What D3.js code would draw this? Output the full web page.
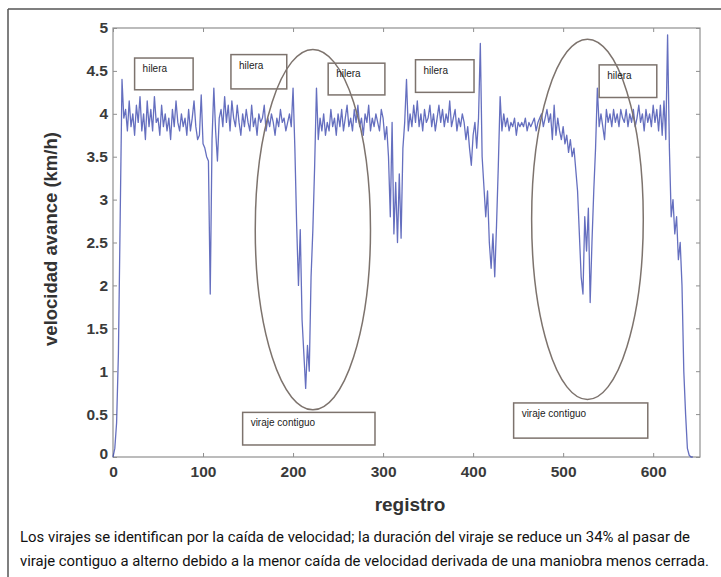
<!DOCTYPE html>
<html>
<head>
<meta charset="utf-8">
<script src="https://cdn.jsdelivr.net/npm/d3@7"></script>
<style>
  body { margin: 0; background: #fff; }
</style>
</head>
<body>
<div id="chart"></div>
<script>
// chart size and plot box
const width = 721;
const height = 577;
const marginLeft = 113;
const marginTop = 28;
const plotRight = 700;
const plotBottom = 457;

// velocidad de avance, one value every 2 registros
const paso = 2;
const velocidad = [
  0.00, 0.10, 0.40, 1.20, 2.80, 4.40, 3.95, 4.05, 3.80, 4.15,
  3.85, 4.00, 3.75, 4.10, 3.90, 4.20, 3.80, 4.00, 3.70, 4.15,
  3.85, 4.05, 3.80, 4.20, 3.90, 3.95, 3.75, 4.10, 3.85, 4.00,
  3.80, 3.95, 3.70, 4.05, 3.85, 4.15, 3.90, 3.80, 4.00, 3.85,
  3.95, 3.75, 4.05, 3.80, 3.95, 4.15, 3.85, 3.70, 3.75, 4.22,
  3.65, 3.60, 3.50, 3.45, 1.90, 3.70, 4.30, 3.80, 3.45, 3.95,
  4.05, 3.85, 4.20, 3.90, 4.10, 3.80, 4.15, 3.95, 3.85, 4.10,
  3.90, 3.75, 4.00, 3.85, 4.05, 3.90, 3.80, 4.10, 3.85, 3.95,
  3.75, 4.00, 3.90, 3.95, 4.10, 3.80, 3.95, 3.85, 4.00, 3.90,
  3.75, 3.95, 3.85, 4.05, 3.90, 3.95, 3.80, 3.90, 4.00, 3.85,
  4.30, 3.60, 2.70, 2.00, 2.65, 1.60, 1.20, 0.80, 1.30, 1.00,
  2.10, 2.65, 3.40, 4.30, 3.70, 3.95, 3.80, 4.00, 3.75, 3.90,
  3.80, 4.05, 3.85, 3.95, 3.75, 4.00, 3.85, 4.05, 3.80, 3.95,
  4.10, 3.85, 3.95, 3.80, 4.05, 3.90, 4.10, 3.85, 3.95, 3.75,
  4.00, 3.90, 4.10, 3.80, 3.95, 3.85, 4.00, 3.90, 3.80, 4.05,
  3.95, 3.70, 3.85, 3.50, 2.80, 3.90, 2.60, 3.20, 2.50, 3.30,
  2.55, 3.60, 3.90, 4.40, 3.80, 4.00, 3.85, 4.10, 3.90, 4.15,
  3.85, 4.00, 3.80, 4.05, 3.90, 3.95, 4.10, 3.85, 4.00, 3.80,
  3.95, 4.10, 3.90, 4.05, 3.85, 4.00, 3.90, 4.15, 3.85, 3.95,
  4.05, 3.80, 3.95, 3.85, 4.00, 3.90, 3.70, 3.85, 3.60, 3.40,
  3.75, 3.90, 3.60, 3.95, 4.82, 3.50, 3.15, 2.80, 3.10, 2.50,
  2.20, 2.60, 2.10, 2.70, 3.40, 4.20, 3.80, 4.00, 3.85, 3.95,
  3.80, 3.90, 3.85, 3.95, 3.75, 3.90, 3.85, 3.90, 3.85, 3.95,
  3.80, 3.90, 3.85, 3.90, 3.95, 3.80, 3.90, 3.95, 4.00, 3.85,
  3.95, 4.05, 3.90, 4.00, 3.70, 4.10, 3.75, 3.95, 3.80, 3.70,
  3.85, 3.65, 3.75, 3.55, 3.70, 3.50, 3.60, 3.35, 3.10, 2.60,
  2.10, 1.90, 2.80, 2.40, 2.90, 1.80, 2.50, 3.10, 3.60, 4.30,
  3.85, 4.00, 3.85, 3.70, 4.05, 3.90, 4.00, 3.85, 4.05, 3.90,
  4.00, 3.85, 4.05, 3.95, 3.90, 4.05, 3.85, 4.00, 3.90, 4.05,
  3.85, 3.95, 4.10, 3.90, 4.00, 3.80, 4.05, 3.90, 4.00, 3.85,
  4.10, 3.90, 4.05, 3.80, 4.10, 3.75, 4.15, 3.70, 4.92, 3.60,
  2.80, 3.00, 2.60, 2.80, 2.30, 2.50, 2.00, 1.00, 0.50, 0.10,
  0.02, 0.00, 0.00
];

// axis ticks
const xTicks = [0, 100, 200, 300, 400, 500, 600];
const yTicks = [0, 0.5, 1, 1.5, 2, 2.5, 3, 3.5, 4, 4.5, 5];

// annotation boxes: [x0, x1, yTop, yBottom] in data units
const etiquetas = [
  { texto: "hilera", caja: [24, 89, 4.65, 4.28] },
  { texto: "hilera", caja: [131, 193, 4.69, 4.29] },
  { texto: "hilera", caja: [239, 302, 4.59, 4.22] },
  { texto: "hilera", caja: [336, 401, 4.63, 4.25] },
  { texto: "hilera", caja: [540, 604, 4.57, 4.19] },
  { texto: "viraje contiguo", caja: [144, 291, 0.52, 0.14] },
  { texto: "viraje contiguo", caja: [445, 594, 0.63, 0.22] }
];

// ellipses around the turns: [cx, cy, rx, ry] in data units
const elipses = [
  [222, 2.65, 64, 2.1],
  [527, 2.77, 62, 2.1]
];

const caption = [
  "Los virajes se identifican por la caída de velocidad; la duración del viraje se reduce un 34% al pasar de",
  "viraje contiguo a alterno debido a la menor caída de velocidad derivada de una maniobra menos cerrada."
];

const svg = d3.select("#chart")
  .append("svg")
  .attr("width", width)
  .attr("height", height)
  .style("display", "block");

// outer frame (top and left lines)
svg.append("line")
  .attr("x1", 8).attr("y1", 9).attr("x2", width).attr("y2", 9)
  .style("stroke", "#555").style("stroke-width", 1.5);
svg.append("line")
  .attr("x1", 8).attr("y1", 9).attr("x2", 8).attr("y2", height)
  .style("stroke", "#555").style("stroke-width", 1.5);

const x = d3.scaleLinear().domain([0, 652]).range([marginLeft, plotRight]);
const y = d3.scaleLinear().domain([0, 5]).range([plotBottom, marginTop]);

// axes with inward ticks on all four sides
const axisColor = "#8f8f8f";
const labelColor = "#3a3a3a";

function styleAxis(g) {
  g.select(".domain").remove();
  g.selectAll(".tick line").style("stroke", axisColor);
  g.selectAll(".tick text")
    .style("fill", labelColor)
    .style("font-family", "Liberation Sans, Arial, sans-serif")
    .style("font-size", "15.5px")
    .style("font-weight", "bold");
}

svg.append("g")
  .attr("transform", `translate(0,${plotBottom})`)
  .call(d3.axisBottom(x).tickValues(xTicks).tickSize(-4).tickPadding(9).tickFormat(d3.format("d")))
  .call(styleAxis);

svg.append("g")
  .attr("transform", `translate(0,${marginTop})`)
  .call(d3.axisTop(x).tickValues(xTicks).tickSize(-4).tickFormat(""))
  .call(styleAxis);

svg.append("g")
  .attr("transform", `translate(${marginLeft},0)`)
  .call(d3.axisLeft(y).tickValues(yTicks).tickSize(-4).tickPadding(5).tickFormat(d => d === 0 ? "0" : String(d)))
  .call(styleAxis);

svg.append("g")
  .attr("transform", `translate(${plotRight},0)`)
  .call(d3.axisRight(y).tickValues(yTicks).tickSize(-4).tickFormat(""))
  .call(styleAxis);

// y "0" label sits a bit higher, like in the figure
svg.selectAll("g.tick text").filter(function(d) {
  return d === 0 && this.getAttribute("x") !== null && +this.getAttribute("x") < 0;
}).attr("dy", "0.1em");

// plot box
svg.append("rect")
  .attr("x", marginLeft)
  .attr("y", marginTop)
  .attr("width", plotRight - marginLeft)
  .attr("height", plotBottom - marginTop)
  .style("fill", "none")
  .style("stroke", axisColor)
  .style("stroke-width", 1.2);

// data line
const line = d3.line()
  .x((d, i) => x(i * paso))
  .y(d => y(d));

svg.append("path")
  .datum(velocidad)
  .attr("d", line)
  .style("fill", "none")
  .style("stroke", "#4a56b4")
  .style("stroke-width", 1.3)
  .style("stroke-opacity", 0.85)
  .style("stroke-linejoin", "round");

// ellipses
svg.selectAll("ellipse")
  .data(elipses)
  .enter()
  .append("ellipse")
  .attr("cx", d => x(d[0]))
  .attr("cy", d => y(d[1]))
  .attr("rx", d => x(d[2]) - x(0))
  .attr("ry", d => y(0) - y(d[3]))
  .style("fill", "none")
  .style("stroke", "#7d736d")
  .style("stroke-width", 1.5);

// annotation boxes
const cajas = svg.selectAll("g.caja")
  .data(etiquetas)
  .enter()
  .append("g")
  .attr("class", "caja");

cajas.append("rect")
  .attr("x", d => x(d.caja[0]))
  .attr("y", d => y(d.caja[2]))
  .attr("width", d => x(d.caja[1]) - x(d.caja[0]))
  .attr("height", d => y(d.caja[3]) - y(d.caja[2]))
  .style("fill", "none")
  .style("stroke", "#7d736d")
  .style("stroke-width", 1.5);

cajas.append("text")
  .attr("x", d => x(d.caja[0]) + 8)
  .attr("y", d => y(d.caja[2]) + 14)
  .text(d => d.texto)
  .style("font-family", "Liberation Sans, Arial, sans-serif")
  .style("font-size", "10px")
  .style("fill", "#222");

// axis titles
svg.append("text")
  .attr("x", 410)
  .attr("y", 511)
  .attr("text-anchor", "middle")
  .text("registro")
  .style("font-family", "Liberation Sans, Arial, sans-serif")
  .style("font-size", "19px")
  .style("font-weight", "bold")
  .style("fill", "#333");

svg.append("text")
  .attr("transform", "translate(57,239) rotate(-90)")
  .attr("text-anchor", "middle")
  .text("velocidad avance (km/h)")
  .style("font-family", "Liberation Sans, Arial, sans-serif")
  .style("font-size", "18.5px")
  .style("font-weight", "bold")
  .style("fill", "#333");

// caption
svg.selectAll("text.caption")
  .data(caption)
  .enter()
  .append("text")
  .attr("class", "caption")
  .attr("x", 20)
  .attr("y", (d, i) => 542 + i * 24)
  .attr("textLength", (d, i) => i === 0 ? 670 : 689)
  .attr("lengthAdjust", "spacingAndGlyphs")
  .text(d => d)
  .style("font-family", "Liberation Sans Narrow, Arial Narrow, Roboto, sans-serif")
  .style("font-size", "14.5px")
  .style("fill", "#111");
</script>
</body>
</html>
